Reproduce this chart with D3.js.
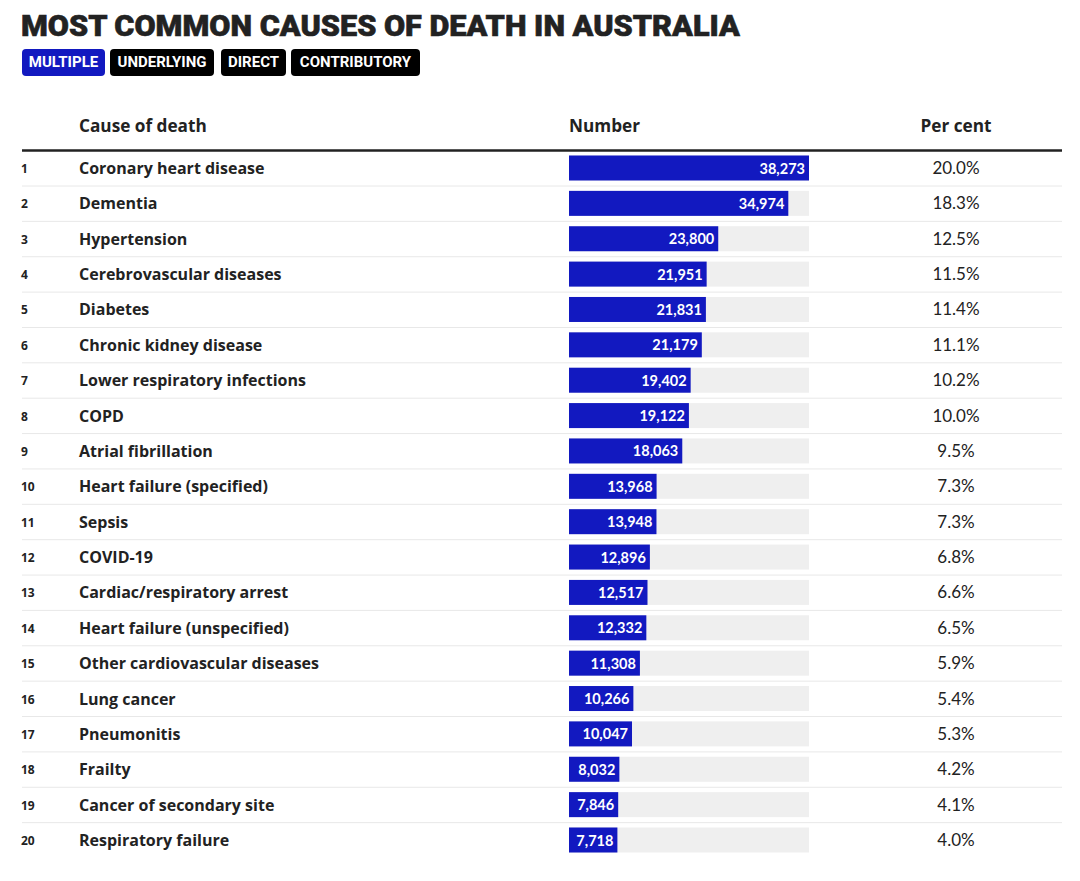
<!DOCTYPE html>
<html><head><meta charset="utf-8">
<script src="https://cdn.jsdelivr.net/npm/d3@7"></script>
<style>
body{margin:0;background:#fff;}
svg{display:block;}
</style></head>
<body>
<script>
const title = "MOST COMMON CAUSES OF DEATH IN AUSTRALIA";
const tabs = ["MULTIPLE","UNDERLYING","DIRECT","CONTRIBUTORY"];
const headers = ["Cause of death","Number","Per cent"];
const ranks = [1,2,3,4,5,6,7,8,9,10,11,12,13,14,15,16,17,18,19,20];
const causes = ["Coronary heart disease","Dementia","Hypertension","Cerebrovascular diseases","Diabetes","Chronic kidney disease","Lower respiratory infections","COPD","Atrial fibrillation","Heart failure (specified)","Sepsis","COVID-19","Cardiac/respiratory arrest","Heart failure (unspecified)","Other cardiovascular diseases","Lung cancer","Pneumonitis","Frailty","Cancer of secondary site","Respiratory failure"];
const numbers = [38273,34974,23800,21951,21831,21179,19402,19122,18063,13968,13948,12896,12517,12332,11308,10266,10047,8032,7846,7718];
const percents = [20.0,18.3,12.5,11.5,11.4,11.1,10.2,10.0,9.5,7.3,7.3,6.8,6.6,6.5,5.9,5.4,5.3,4.2,4.1,4.0];

const W=1080,H=881;
const svg=d3.select("body").append("svg").attr("width",W).attr("height",H);
const F="'Open Sans', sans-serif";
const FL="Lato, sans-serif";

svg.append("text").attr("x",21).attr("y",36).text(title)
  .attr("font-family","Roboto, sans-serif").attr("font-weight",900).attr("font-size",29)
  .attr("fill","#222").attr("stroke","#222").attr("stroke-width",0.6)
  .attr("textLength",719).attr("lengthAdjust","spacingAndGlyphs");

// tabs
const tabX=[22,110,221,291], tabW=[83,104,65,129];
tabs.forEach((t,i)=>{
  const g=svg.append("g").attr("transform",`translate(${tabX[i]},49)`);
  g.append("rect").attr("width",tabW[i]).attr("height",27).attr("rx",4)
   .attr("fill",i===0?"#1219c0":"#000");
  g.append("text").attr("x",tabW[i]/2).attr("y",18).attr("text-anchor","middle")
   .attr("font-family","Roboto, sans-serif").attr("font-weight",700).attr("font-size",15)
   .attr("fill","#fff").text(t);
});

const rowY=d3.scalePoint().domain(ranks).range([168,840]);
const x=d3.scaleLinear().domain([0,d3.max(numbers)]).range([569,809]);
const pctX=956;

// headers
const hf={ "font-family":F,"font-weight":700,"font-size":17.2,"fill":"#222"};
function applyA(sel,o){for(const k in o) sel.attr(k,o[k]); return sel;}
applyA(svg.append("text").attr("x",79).attr("y",132).text(headers[0]),hf);
applyA(svg.append("text").attr("x",569).attr("y",132).text(headers[1]),hf);
applyA(svg.append("text").attr("x",pctX).attr("y",132).attr("text-anchor","middle").text(headers[2]),hf);

// separators
ranks.slice(0,-1).forEach(r=>{
  svg.append("line").attr("x1",22).attr("x2",1062)
   .attr("y1",rowY(r)+18).attr("y2",rowY(r)+18)
   .attr("stroke","#e8e8e8").attr("stroke-width",1);
});
svg.append("line").attr("x1",22).attr("x2",1062).attr("y1",150.5).attr("y2",150.5)
  .attr("stroke","#222").attr("stroke-width",2.5);

const rows=svg.selectAll("g.row").data(ranks).enter().append("g").attr("class","row")
  .attr("transform",d=>`translate(0,${rowY(d)})`);

rows.append("text").attr("x",21).attr("y",5).text(d=>d)
  .attr("font-family",F).attr("font-weight",700).attr("font-size",12).attr("fill","#222");
rows.append("text").attr("x",79).attr("y",6).text((d,i)=>causes[i])
  .attr("font-family",F).attr("font-weight",700).attr("font-size",16).attr("fill","#222");
rows.append("rect").attr("x",x(0)).attr("y",-12.5).attr("height",25)
  .attr("width",x(d3.max(numbers))-x(0)).attr("fill","#efefef");
rows.append("rect").attr("x",x(0)).attr("y",-12.5).attr("height",25)
  .attr("width",(d,i)=>x(numbers[i])-x(0)).attr("fill","#1219c0");
rows.append("text").attr("x",(d,i)=>x(numbers[i])-4).attr("y",5.5).attr("text-anchor","end")
  .text((d,i)=>d3.format(",")(numbers[i]))
  .attr("font-family",FL).attr("font-weight",700).attr("font-size",14.5).attr("fill","#fff");
rows.append("text").attr("x",pctX).attr("y",6).attr("text-anchor","middle")
  .text((d,i)=>d3.format(".1f")(percents[i])+"%")
  .attr("font-family",FL).attr("font-weight",400).attr("font-size",17).attr("fill","#222");
</script>
</body></html>
